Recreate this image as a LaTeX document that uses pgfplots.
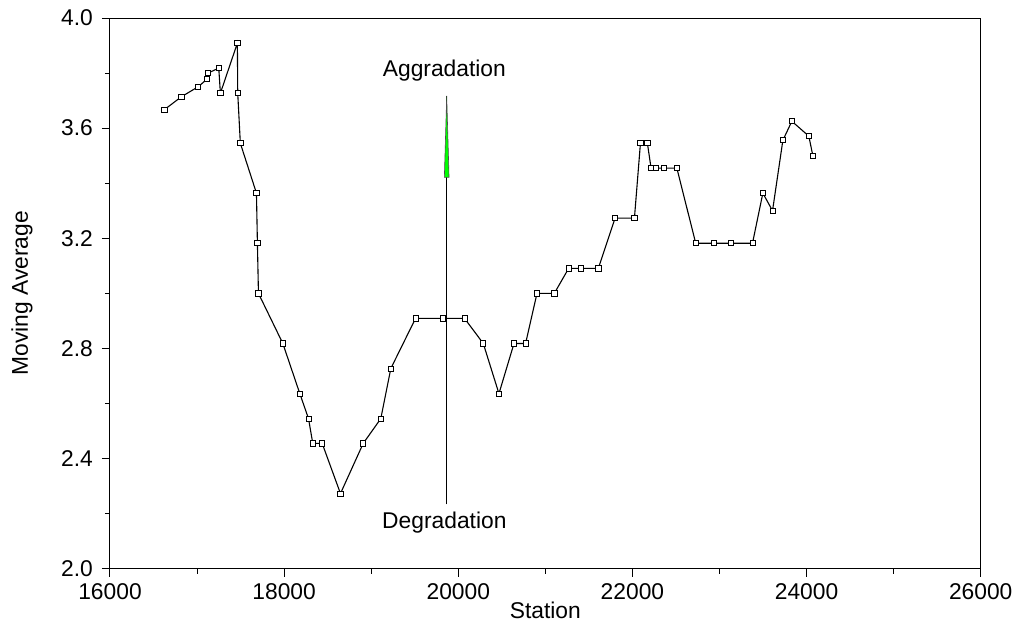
\documentclass[border=0pt]{standalone}
\usepackage{pgfplots}
\pgfplotsset{compat=1.18}
\usepackage{fontspec}
\setmainfont{Liberation Sans}
\begin{document}
\begin{tikzpicture}
\useasboundingbox (-55pt,-29.65pt) rectangle (452.5pt,284.35pt);
\begin{axis}[
  at={(0,0)}, anchor=south west,
  scale only axis, width=435.35pt, height=275.35pt,
  xmin=16000, xmax=26000, ymin=2.0, ymax=4.0,
  xtick={16000,18000,...,26000},
  ytick={2.0,2.4,...,4.0},
  scaled x ticks=false, scaled y ticks=false,
  minor x tick num=1, minor y tick num=1,
  xtick pos=bottom, ytick pos=left,
  tick align=outside,
  major tick length=4pt, minor tick length=2.5pt,
  every tick/.style={black, line width=0.5pt},
  axis line style={line width=0.5pt},
  font=\fontsize{11.4}{13}\selectfont,
  /pgf/number format/assume math mode=true,
  x tick label style={/pgf/number format/set thousands separator={}, /pgf/number format/fixed},
  y tick label style={/pgf/number format/fixed, /pgf/number format/fixed zerofill, /pgf/number format/precision=1, xshift=-1pt},
  xlabel={Station}, ylabel={Moving Average},
  xlabel style={at={(axis description cs:0.5,-0.075)}, anchor=center},
  ylabel style={at={(axis description cs:-0.101,0.5)}, anchor=center},
  clip=false,
]
\addplot[black, line width=0.55pt, mark=square*, mark size=1.3pt,
  mark options={fill=white, draw=black, line width=0.4pt}] coordinates {
(16624,3.667) (16820,3.714) (17011,3.750) (17115,3.778) (17126,3.800)
(17249,3.818) (17268,3.727) (17463,3.909) (17467,3.727) (17497,3.545)
(17682,3.364) (17693,3.182) (17705,3.000) (17985,2.818) (18180,2.636)
(18280,2.545) (18329,2.455) (18437,2.455) (18647,2.273) (18908,2.455)
(19110,2.545) (19225,2.727) (19509,2.909) (19819,2.909) (20072,2.909)
(20287,2.818) (20467,2.636) (20640,2.818) (20773,2.818) (20904,3.000)
(21103,3.000) (21268,3.091) (21410,3.091) (21609,3.091) (21801,3.273)
(22023,3.273) (22092,3.545) (22172,3.545) (22214,3.455) (22268,3.455)
(22360,3.455) (22510,3.455) (22727,3.182) (22934,3.182) (23130,3.182)
(23379,3.182) (23498,3.364) (23609,3.300) (23728,3.556) (23831,3.625)
(24026,3.571) (24072,3.500)
};
\addplot[black, line width=0.5pt] coordinates {(19867,2.234) (19867,3.717)};
\addplot[draw=black!70, fill=green, line width=0.3pt] coordinates {(19840,3.421) (19867,3.717) (19894,3.421)} -- cycle;
\node[font=\fontsize{11.4}{13}\selectfont] at (axis cs:19840,3.808) {Aggradation};
\node[font=\fontsize{11.4}{13}\selectfont] at (axis cs:19840,2.166) {Degradation};
\end{axis}
\end{tikzpicture}
\end{document}
